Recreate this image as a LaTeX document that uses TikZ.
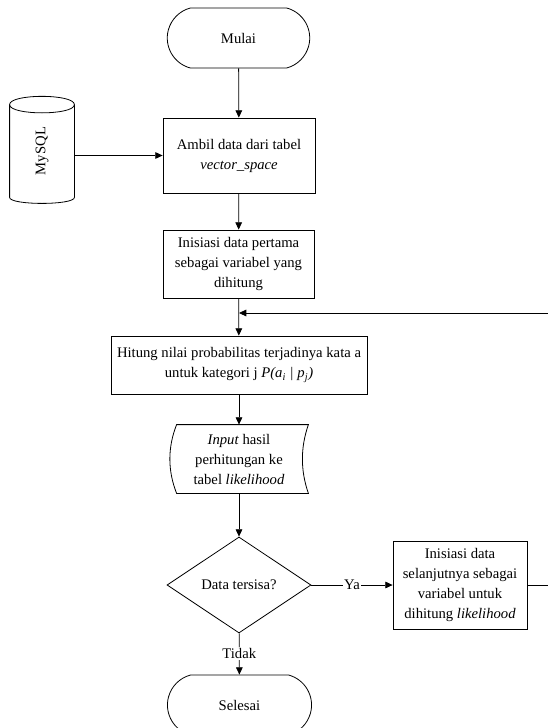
\documentclass[tikz,border=0pt]{standalone}
\usepackage{fontspec}
\setmainfont{Liberation Serif}
\usetikzlibrary{shapes.geometric,shapes.misc,arrows.meta,calc}
\tikzset{proc/.style={draw, inner sep=2pt, align=center}}
\tikzset{term/.style={draw, rounded rectangle, rounded rectangle arc length=150, minimum width=113.5pt, minimum height=45pt}}
\tikzset{flow/.style={-{Triangle[length=5.5pt,width=5pt]}}}
\tikzset{every edge/.style={draw, flow}}

\begin{document}
\begin{tikzpicture}[x=0.75pt, y=-0.75pt, line width=0.6pt, font=\fontsize{11}{15}\selectfont]
    \useasboundingbox (0,0) rectangle (547,728);

    \node[term] at (238.5, 38) (mulai) {Mulai};
    \node[minimum width=48pt, minimum height=69pt, inner sep=0] at (42, 151) (db) {\rotatebox{90}{MySQL}};
    \node[proc, minimum width=114pt, minimum height=56.25pt] at (239, 155.5) (ambil) {Ambil data dari tabel\\\textit{vector\_space}};
    \node[proc, minimum width=113.25pt, minimum height=51pt] at (238.5, 264) (ini) {Inisiasi data pertama\\sebagai variabel yang\\dihitung};
    \node[proc, minimum width=192pt, minimum height=43.5pt] at (239, 365) (hit) {Hitung nilai probabilitas terjadinya kata a\\untuk kategori j \textit{P(a\textsubscript{i} | p\textsubscript{j})}};
    \node[align=center, minimum width=103.5pt, minimum height=51pt] at (239, 459) (inp) {\textit{Input} hasil\\perhitungan ke\\tabel \textit{likelihood}};
    \node[draw, diamond, inner sep=0, minimum width=108pt, minimum height=72pt] at (239, 585) (cek) {Data tersisa?};
    \node[proc, minimum width=100.5pt, minimum height=66pt] at (460, 585) (next) {Inisiasi data\\selanjutnya sebagai\\variabel untuk\\dihitung \textit{likelihood}};
    \node[term, minimum width=114.75pt] at (239.5, 705) (selesai) {Selesai};
    \coordinate (jn) at (239, 313);

    % database shape
    \draw (db.north west) -- (db.south west)
        .. controls +(0,8) and +(0,8) .. (db.south east)
        -- (db.north east)
        .. controls +(0,-11) and +(0,-11) .. (db.north west)
        .. controls +(0,11) and +(0,11) .. (db.north east);

    % input shape
    \draw ($(inp.north west)+(7,0)$) -- (inp.north east)
        .. controls +(-8,23) and +(-8,-23) .. (inp.south east)
        -- ($(inp.south west)+(7,0)$)
        .. controls +(-9,-23) and +(-9,23) .. ($(inp.north west)+(7,0)$) -- cycle;

    \draw (mulai) edge (ambil);
    \draw (db.east |- ambil.west) edge (ambil.west);
    \draw (ambil) edge (ini);
    \draw (ini) edge (hit);
    \draw (hit) edge (inp);
    \draw (inp) edge (cek);
    \draw (cek) edge node[fill=white, inner sep=1pt] {Ya} (next);
    \draw (cek) edge node[fill=white, inner sep=1pt] {Tidak} (selesai);
    \draw[flow] (next.east) -- ++(40,0) |- (jn);
\end{tikzpicture}
\end{document}
